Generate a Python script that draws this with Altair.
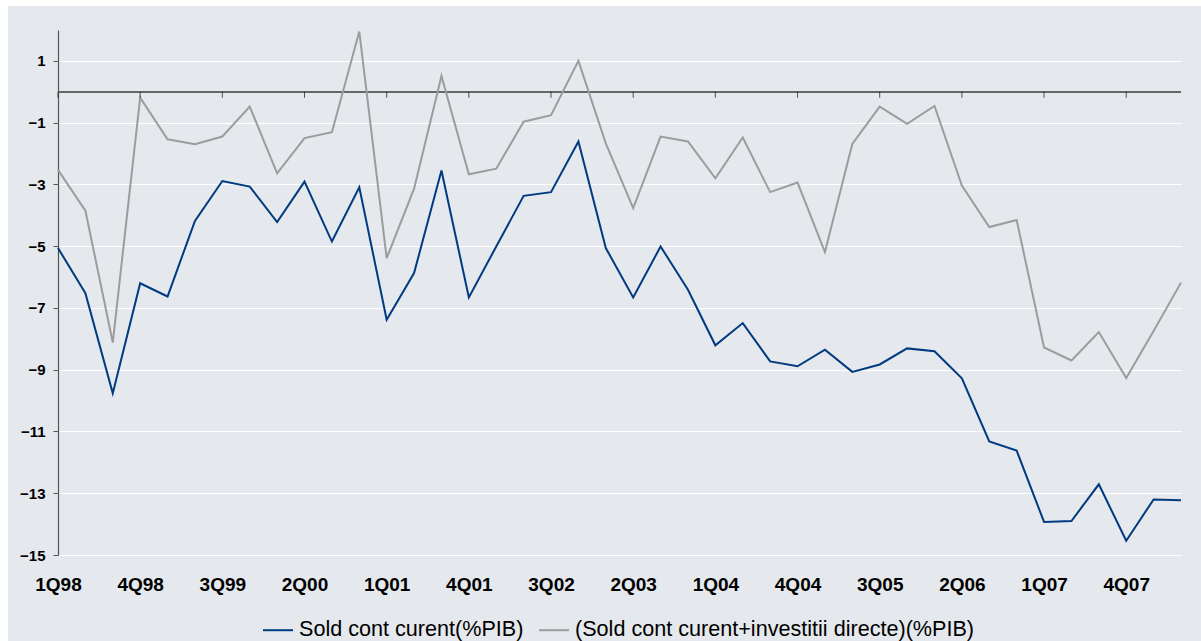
import altair as alt
import pandas as pd

quarters = [f"{q}Q{y:02d}" for y in [98, 99, 0, 1, 2, 3, 4, 5, 6, 7, 8] for q in [1, 2, 3, 4]][:42]

sold_cont = [-5.06, -6.52, -9.76, -6.20, -6.63, -4.18, -2.89, -3.07, -4.22, -2.91, -4.85, -3.09,
             -7.38, -5.87, -2.55, -6.66, -5.01, -3.37, -3.25, -1.61, -5.06, -6.66, -5.01, -6.41,
             -8.21, -7.49, -8.73, -8.89, -8.35, -9.07, -8.83, -8.31, -8.40, -9.28, -11.32, -11.62,
             -13.93, -13.90, -12.71, -14.54, -13.20, -13.23]
sold_isd = [-2.53, -3.85, -8.12, -0.19, -1.54, -1.70, -1.45, -0.48, -2.64, -1.50, -1.31, 1.95,
            -5.39, -3.14, 0.51, -2.67, -2.49, -0.97, -0.76, 1.00, -1.67, -3.77, -1.45, -1.61,
            -2.80, -1.48, -3.25, -2.94, -5.19, -1.69, -0.48, -1.04, -0.46, -3.04, -4.38, -4.15,
            -8.28, -8.70, -7.78, -9.27, -7.75, -6.18]

series_names = ["Sold cont curent(%PIB)", "(Sold cont curent+investitii directe)(%PIB)"]
series_colors = ["#003a80", "#9c9c9c"]
label_quarters = quarters[0:42:3]
y_ticks = [1, -1, -3, -5, -7, -9, -11, -13, -15]

rows = []
for i, q in enumerate(quarters):
    rows.append({"q": q, "v": sold_cont[i], "s": series_names[0], "o": 0})
    rows.append({"q": q, "v": sold_isd[i], "s": series_names[1], "o": 1})
df = pd.DataFrame(rows)
tick_df = pd.DataFrame({"q": label_quarters})

FONT = "Liberation Sans"
W, H = 1123, 525

xscale = alt.Scale(type="point", domain=quarters, padding=0)
yscale = alt.Scale(domain=[-15, 2], nice=False, zero=False)

lines = alt.Chart(df).mark_line(strokeWidth=2).encode(
    x=alt.X("q:N", scale=xscale, sort=quarters,
            axis=alt.Axis(title=None, values=label_quarters, labelAngle=0, domain=False,
                          ticks=False, tickSize=0, grid=False, labelFont=FONT, labelFontSize=19,
                          labelFontWeight="bold", labelColor="#000000", labelPadding=20)),
    y=alt.Y("v:Q", scale=yscale,
            axis=alt.Axis(title=None, values=y_ticks, grid=True, gridColor="#ffffff", gridWidth=1.2,
                          domainColor="#555555", domainWidth=1.2, tickColor="#555555", tickSize=5,
                          labelFont=FONT, labelFontSize=15, labelFontWeight="bold",
                          labelColor="#000000", labelPadding=8)),
    color=alt.Color("s:N", scale=alt.Scale(domain=series_names, range=series_colors),
                    legend=alt.Legend(title=None, orient="none", legendX=204, legendY=584,
                                      direction="horizontal", columns=2, symbolType="stroke",
                                      symbolSize=900, symbolStrokeWidth=2, labelFont=FONT,
                                      labelFontSize=21.6, labelColor="#000000", labelLimit=700,
                                      labelOffset=5, columnPadding=11)),
    order=alt.Order("o:Q"),
    detail="s:N",
)

zero_line = alt.Chart(tick_df).mark_rule(color="#666666", strokeWidth=1.7).encode(
    y=alt.datum(0, scale=yscale)
)

zero_ticks = alt.Chart(tick_df).mark_tick(orient="vertical", color="#111111", thickness=1,
                                           size=6, yOffset=3).encode(
    x=alt.X("q:N", scale=xscale, sort=quarters),
    y=alt.datum(0, scale=yscale),
)

white_left = alt.Chart(tick_df).mark_rect(color="#ffffff").encode(
    x=alt.value(-58), x2=alt.value(-50), y=alt.value(-30), y2=alt.value(H + 86)
)
white_top = alt.Chart(tick_df).mark_rect(color="#ffffff").encode(
    x=alt.value(-58), x2=alt.value(W + 20), y=alt.value(-30), y2=alt.value(-24)
)

chart = alt.layer(zero_line, lines, zero_ticks, white_left, white_top).properties(
    width=W, height=H, autosize="none",
    padding={"left": 58, "top": 30, "right": 20, "bottom": 86},
    background="#e5e8ec",
).configure_view(stroke=None)

chart.save("out.html", embed_options={"renderer": "svg", "actions": False})
